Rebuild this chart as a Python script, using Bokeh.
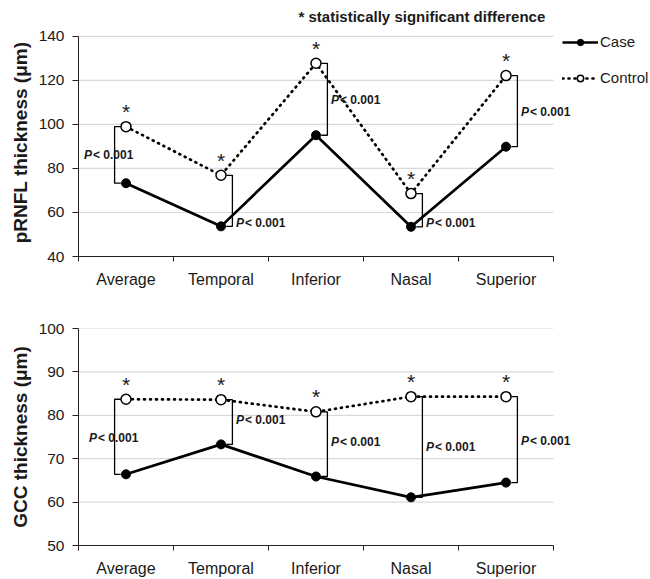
from bokeh.plotting import figure
from bokeh.models import (ColumnDataSource, Range1d, FixedTicker, Legend, LegendItem)
from bokeh.layouts import column
from bokeh.embed import file_html
from bokeh.resources import INLINE
from bokeh.core.properties import value

# ---------------- data ----------------
categories = ["Average", "Temporal", "Inferior", "Nasal", "Superior"]

rnfl_case = [73.3, 53.7, 95.1, 53.5, 89.9]
rnfl_control = [99.0, 76.9, 127.8, 68.6, 122.2]
rnfl_ticks = [40, 60, 80, 100, 120, 140]

gcc_case = [66.4, 73.3, 65.9, 61.1, 64.5]
gcc_control = [83.7, 83.6, 80.8, 84.3, 84.3]
gcc_ticks = [50, 60, 70, 80, 90, 100]

p_text = "< 0.001"
sig_note = "* statistically significant difference"

# annotation layout (label heights in data units, bracket side)
rnfl_p_y = [86.0, 55.3, 111.0, 55.3, 105.8]
gcc_p_y = [74.8, 79.0, 73.8, 72.6, 74.0]
bracket_side = [-1, 1, 1, 1, 1]

FONT = "Liberation Sans"
n = len(categories)
centers = [i + 0.5 for i in range(n)]
bounds = [float(i) for i in range(n + 1)]

# layout: plot area 475 px wide for the categories, frame extends to the right
LEFT = 78
CAT_W = 475
X_END = n * (650 - LEFT) / CAT_W


def panel(case, control, ticks, ylabel, p_y, height, top, bottom, avg_off,
          pad_px=0, axis_px=None):
    y_end = ticks[-1]
    if pad_px:
        y_end = ticks[-1] + pad_px * (ticks[-1] - ticks[0]) / axis_px
    p = figure(width=650, height=height, output_backend="svg", toolbar_location=None,
               x_range=Range1d(0, X_END), y_range=Range1d(ticks[0], y_end),
               min_border_left=LEFT, min_border_right=0, min_border_top=top,
               min_border_bottom=bottom)
    p.outline_line_color = None
    p.xgrid.grid_line_color = None
    p.ygrid.grid_line_color = None

    # horizontal gridlines limited to the category area
    p.segment(x0=[0] * len(ticks), x1=[n] * len(ticks), y0=ticks, y1=ticks,
              line_color="#d9d9d9", line_width=1.2)

    xa = p.xaxis[0]
    xa.bounds = (0, n)
    xa.ticker = FixedTicker(ticks=centers, minor_ticks=bounds)
    xa.major_label_overrides = {c: lab for c, lab in zip(centers, categories)}
    xa.major_tick_out = 0
    xa.major_tick_in = 0
    xa.minor_tick_out = 5
    xa.minor_tick_in = 0
    xa.minor_tick_line_color = "#222222"
    xa.axis_line_color = "#222222"
    xa.major_label_text_font = FONT
    xa.major_label_text_font_size = "16px"
    xa.major_label_text_color = "#1a1a1a"
    xa.major_label_standoff = 9

    ya = p.yaxis[0]
    ya.bounds = (ticks[0], ticks[-1])
    ya.ticker = FixedTicker(ticks=ticks)
    ya.major_tick_out = 6
    ya.major_tick_in = 0
    ya.minor_tick_out = 0
    ya.minor_tick_in = 0
    ya.axis_line_color = "#222222"
    ya.major_tick_line_color = "#222222"
    ya.major_label_text_font = FONT
    ya.major_label_text_font_size = "15.5px"
    ya.major_label_text_color = "#1a1a1a"
    ya.major_label_standoff = 8
    ya.axis_label = ylabel
    ya.axis_label_text_font = FONT
    ya.axis_label_text_font_size = "19px"
    ya.axis_label_text_font_style = "bold"
    ya.axis_label_text_color = "#1a1a1a"
    ya.axis_label_standoff = 5

    # brackets
    xs, ys = [], []
    for c, s, a, b in zip(centers, bracket_side, case, control):
        xs.append([c + s * 0.055, c + s * 0.12, c + s * 0.12, c + s * 0.055])
        ys.append([b, b, a, a])
    p.multi_line(xs, ys, line_color="black", line_width=1.3)

    r_case_line = p.line(centers, case, line_color="black", line_width=2.7)
    r_ctrl_line = p.line(centers, control, line_color="black", line_width=2.7,
                         line_dash="1 5", line_cap="round")
    r_case_pt = p.scatter(centers, case, size=9, fill_color="black", line_color="black")
    r_ctrl_pt = p.scatter(centers, control, size=10, fill_color="white",
                          line_color="black", line_width=1.5)

    # asterisks
    ast = ColumnDataSource(dict(x=centers, y=control, t=["*"] * n))
    p.text(x="x", y="y", text="t", source=ast, text_align="center",
           text_baseline="middle", y_offset=-15, text_font=value(FONT),
           text_font_size="21px", text_color="#1a1a1a")

    # P labels
    offs = [avg_off if s < 0 else 15 for s in bracket_side]
    ps = ColumnDataSource(dict(x=centers, y=p_y, off=offs,
                               off2=[o + 9 for o in offs],
                               P=["P"] * n, t=[p_text] * n))
    p.text(x="x", y="y", text="P", x_offset="off", source=ps, text_align="left",
           text_baseline="middle", text_font=value(FONT), text_font_size="12px",
           text_font_style="bold italic", text_color="#1a1a1a")
    p.text(x="x", y="y", text="t", x_offset="off2", source=ps, text_align="left",
           text_baseline="middle", text_font=value(FONT), text_font_size="12px",
           text_font_style="bold", text_color="#1a1a1a")
    return p, (r_case_line, r_case_pt), (r_ctrl_line, r_ctrl_pt)


# top panel: frame starts 8 px above the 140 line so the legend stays visible
top, case_r, ctrl_r = panel(rnfl_case, rnfl_control, rnfl_ticks,
                            "pRNFL thickness (μm)", rnfl_p_y, 290, 28, 32, -42,
                            pad_px=8, axis_px=222)
bot, _, _ = panel(gcc_case, gcc_control, gcc_ticks,
                  "GCC thickness (μm)", gcc_p_y, 289, 38, 28, -37)

legend = Legend(items=[LegendItem(label="Case", renderers=list(case_r)),
                       LegendItem(label="Control", renderers=list(ctrl_r))],
                location=(484, 170), glyph_width=36, glyph_height=16,
                label_height=16, spacing=19, padding=0, margin=0,
                border_line_alpha=0, background_fill_alpha=0,
                label_text_font=FONT, label_text_font_size="15px",
                label_text_color="#1a1a1a", label_standoff=2)
top.add_layout(legend)

top.title.text = sig_note
top.title.align = "left"
top.title.offset = 220
top.title.text_font = FONT
top.title.text_font_size = "15px"
top.title.text_font_style = "bold"
top.title.text_color = "#1a1a1a"
top.title.standoff = 7

layout = column(top, bot, spacing=0)
open("out.html", "w").write(file_html(layout, INLINE))
